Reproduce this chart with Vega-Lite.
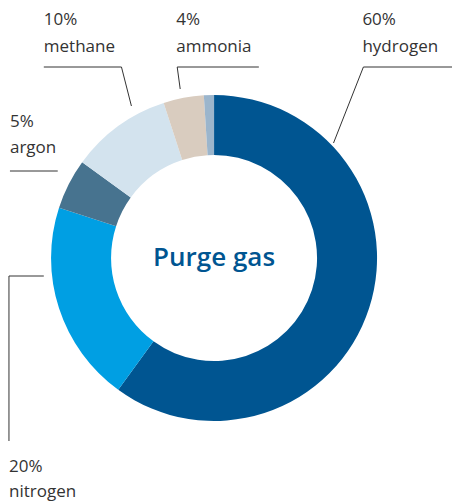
{
  "$schema": "https://vega.github.io/schema/vega-lite/v6.json",
  "width": 454,
  "height": 502,
  "autosize": {"type": "fit", "contains": "padding"},
  "padding": 0,
  "background": "white",
  "config": {"view": {"stroke": null}},
  "datasets": {
    "slices": [
      {"gas": "hydrogen", "share": 60, "ord": 1},
      {"gas": "nitrogen", "share": 20, "ord": 2},
      {"gas": "argon", "share": 5, "ord": 3},
      {"gas": "methane", "share": 10, "ord": 4},
      {"gas": "ammonia", "share": 4, "ord": 5},
      {"gas": "other", "share": 1, "ord": 6}
    ],
    "leaders": [
      {"id": "hydrogen", "seq": 1, "x": 239, "y": -191},
      {"id": "hydrogen", "seq": 2, "x": 150, "y": -191},
      {"id": "hydrogen", "seq": 3, "x": 120, "y": -115},
      {"id": "ammonia", "seq": 1, "x": 45, "y": -191},
      {"id": "ammonia", "seq": 2, "x": -37, "y": -191},
      {"id": "ammonia", "seq": 3, "x": -34, "y": -169},
      {"id": "methane", "seq": 1, "x": -171, "y": -191},
      {"id": "methane", "seq": 2, "x": -93, "y": -191},
      {"id": "methane", "seq": 3, "x": -83, "y": -152},
      {"id": "argon", "seq": 1, "x": -205, "y": -87},
      {"id": "argon", "seq": 2, "x": -157, "y": -87},
      {"id": "nitrogen", "seq": 1, "x": -171, "y": 18},
      {"id": "nitrogen", "seq": 2, "x": -206, "y": 18},
      {"id": "nitrogen", "seq": 3, "x": -206, "y": 183}
    ],
    "labels": [
      {"label": "60%", "x": 149, "y": -233},
      {"label": "hydrogen", "x": 149, "y": -206},
      {"label": "4%", "x": -38, "y": -233},
      {"label": "ammonia", "x": -38, "y": -206},
      {"label": "10%", "x": -171, "y": -233},
      {"label": "methane", "x": -171, "y": -206},
      {"label": "5%", "x": -205, "y": -131},
      {"label": "argon", "x": -205, "y": -105},
      {"label": "20%", "x": -206, "y": 214},
      {"label": "nitrogen", "x": -206, "y": 239}
    ],
    "title": [{"label": "Purge gas", "x": 0, "y": 8}]
  },
  "data": {"name": "slices"},
  "layer": [
    {
      "data": {"name": "slices"},
      "mark": {"type": "arc", "radius": 163, "radius2": 103},
      "encoding": {
        "x": {"datum": 0, "type": "quantitative", "scale": {"domain": [-215, 239], "nice": false, "zero": false}, "axis": null},
        "y": {"datum": 0, "type": "quantitative", "scale": {"domain": [-258, 244], "reverse": true, "nice": false, "zero": false}, "axis": null},
        "theta": {"field": "share", "type": "quantitative", "stack": true},
        "order": {"field": "ord", "type": "quantitative"},
        "color": {
          "field": "gas",
          "type": "nominal",
          "legend": null,
          "scale": {
            "domain": ["hydrogen", "nitrogen", "argon", "methane", "ammonia", "other"],
            "range": ["#005591", "#009fe3", "#47738f", "#d3e3ee", "#d9ccbf", "#9bb5cc"]
          }
        }
      }
    },
    {
      "data": {"name": "leaders"},
      "mark": {"type": "line", "color": "#333333", "strokeWidth": 1, "interpolate": "linear"},
      "encoding": {
        "x": {"field": "x", "type": "quantitative", "axis": null, "scale": {"domain": [-215, 239], "nice": false, "zero": false}},
        "y": {"field": "y", "type": "quantitative", "axis": null, "scale": {"domain": [-258, 244], "reverse": true, "nice": false, "zero": false}},
        "detail": {"field": "id"},
        "order": {"field": "seq", "type": "quantitative"}
      }
    },
    {
      "data": {"name": "labels"},
      "mark": {"type": "text", "align": "left", "baseline": "alphabetic", "font": "Open Sans", "fontSize": 17, "color": "#333333"},
      "encoding": {
        "x": {"field": "x", "type": "quantitative", "axis": null, "scale": {"domain": [-215, 239], "nice": false, "zero": false}},
        "y": {"field": "y", "type": "quantitative", "axis": null, "scale": {"domain": [-258, 244], "reverse": true, "nice": false, "zero": false}},
        "text": {"field": "label"}
      }
    },
    {
      "data": {"name": "title"},
      "mark": {"type": "text", "align": "center", "baseline": "alphabetic", "font": "Open Sans", "fontSize": 26, "fontWeight": 600, "letterSpacing": 0.6, "color": "#005591"},
      "encoding": {
        "x": {"field": "x", "type": "quantitative", "axis": null, "scale": {"domain": [-215, 239], "nice": false, "zero": false}},
        "y": {"field": "y", "type": "quantitative", "axis": null, "scale": {"domain": [-258, 244], "reverse": true, "nice": false, "zero": false}},
        "text": {"field": "label"}
      }
    }
  ]
}
